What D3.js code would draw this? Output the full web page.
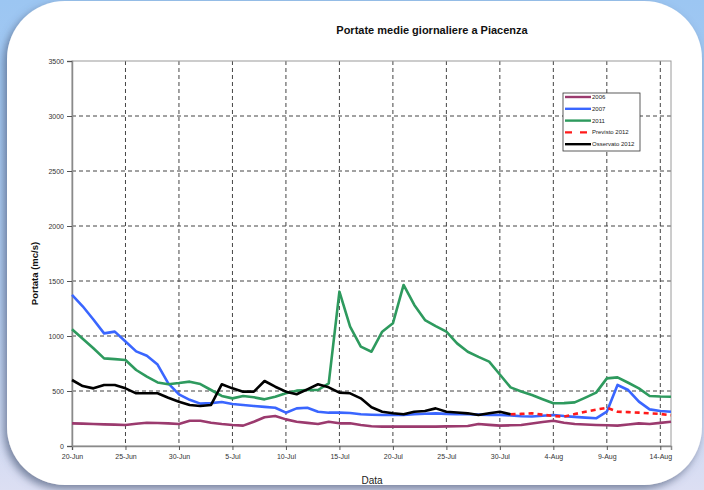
<!DOCTYPE html>
<html>
<head>
<meta charset="utf-8">
<script src="https://cdn.jsdelivr.net/npm/d3@7"></script>
<style>
  html, body { margin: 0; padding: 0; }
  body { width: 704px; height: 490px; overflow: hidden; font-family: Arial, "Liberation Sans", sans-serif; }
</style>
</head>
<body>
<div class="container"></div>
<script>
const width = 704,
    height = 490;

// daily mean flow (mc/s), one value per day starting 20-Jun
const startDay = new Date(2012, 5, 20);
const flow2006 = [206, 203, 200, 197, 194, 191, 202, 212, 209, 206, 200, 230, 230, 212, 200, 191, 185, 221, 261, 273,
    242, 221, 210, 200, 221, 206, 206, 191, 180, 176, 176, 176, 176, 176, 176, 178, 180, 182, 200, 192,
    185, 188, 191, 205, 218, 230, 212, 200, 195, 191, 188, 185, 195, 206, 200, 210, 221];
const flow2007 = [1373, 1270, 1150, 1024, 1040, 950, 860, 820, 740, 570, 470, 420, 385, 390, 400, 382, 372, 364, 356, 348,
    303, 342, 348, 312, 303, 303, 300, 288, 284, 282, 282, 282, 288, 293, 297, 292, 288, 288, 285, 283,
    282, 278, 270, 268, 275, 282, 272, 265, 258, 252, 312, 555, 509, 403, 333, 318, 312];
const flow2011 = [1061, 975, 888, 797, 790, 782, 691, 630, 578, 562, 572, 585, 563, 509, 455, 433, 455, 443, 424, 448,
    479, 503, 509, 509, 570, 1403, 1085, 903, 857, 1039, 1115, 1464, 1282, 1145, 1090, 1039, 933, 857, 810, 767,
    650, 533, 495, 464, 425, 388, 390, 397, 440, 485, 615, 624, 575, 524, 455, 450, 448];
const observed2012 = [600, 545, 524, 555, 555, 524, 479, 479, 479, 439, 403, 373, 364, 373, 561, 524, 494, 494, 591, 539,
    494, 470, 515, 561, 533, 485, 479, 433, 352, 312, 297, 288, 312, 318, 342, 312, 305, 297, 282, 297,
    312, 288];
// forecast starts where the observed series stops (day 41)
const forecastStart = 41;
const forecast2012 = [288, 292, 297, 285, 273, 267, 290, 312, 330, 348, 312, 308, 303, 297, 291, 279];

const yTicks = [0, 500, 1000, 1500, 2000, 2500, 3000, 3500];
const xTickDays = [0, 5, 10, 15, 20, 25, 30, 35, 40, 45, 50, 55];

const series = [
    { name: '2006', values: flow2006, offset: 0, color: '#9b3a6e', dash: null },
    { name: '2007', values: flow2007, offset: 0, color: '#3a66ff', dash: null },
    { name: '2011', values: flow2011, offset: 0, color: '#2e9a5e', dash: null },
    { name: 'Previsto 2012', values: forecast2012, offset: forecastStart, color: '#ff1a1a', dash: '5,4' },
    { name: 'Osservato 2012', values: observed2012, offset: 0, color: '#000000', dash: null }
];

const dayDate = i => d3.timeDay.offset(startDay, i);

const svg = d3.select('.container')
    .append('svg')
    .attr('width', width)
    .attr('height', height);

const defs = svg.append('defs');
const bg = defs.append('linearGradient')
    .attr('id', 'bg')
    .attr('x1', 0).attr('y1', 0).attr('x2', 0).attr('y2', 1);
bg.append('stop').attr('offset', '0%').attr('stop-color', '#9cc6f2');
bg.append('stop').attr('offset', '60%').attr('stop-color', '#b4cdf1');
bg.append('stop').attr('offset', '100%').attr('stop-color', '#dcdff3');

const shadow = defs.append('filter')
    .attr('id', 'shadow')
    .attr('x', '-10%').attr('y', '-10%').attr('width', '120%').attr('height', '120%');
shadow.append('feDropShadow')
    .attr('dx', -3).attr('dy', 4)
    .attr('stdDeviation', 4)
    .attr('flood-color', '#4a5878')
    .attr('flood-opacity', 0.7);

svg.append('rect')
    .attr('width', width)
    .attr('height', height)
    .attr('fill', 'url(#bg)');

svg.append('rect')
    .attr('x', 7)
    .attr('y', 1)
    .attr('width', 695)
    .attr('height', 484)
    .attr('rx', 58)
    .attr('ry', 58)
    .attr('fill', '#ffffff')
    .attr('filter', 'url(#shadow)');

const plot = { left: 72, right: 671, top: 61, bottom: 446 };

const x = d3.scaleTime()
    .domain([startDay, dayDate(56)])
    .range([plot.left, plot.right]);

const y = d3.scaleLinear()
    .domain([0, 3500])
    .range([plot.bottom, plot.top]);

// grid
const grid = svg.append('g').attr('class', 'grid');
grid.selectAll('.hgrid')
    .data(yTicks.filter(d => d > 0 && d < 3500))
    .enter()
    .append('line')
    .attr('x1', plot.left).attr('x2', plot.right)
    .attr('y1', d => y(d)).attr('y2', d => y(d))
    .attr('stroke', '#444')
    .attr('stroke-width', 1)
    .attr('stroke-dasharray', '4,3');

grid.selectAll('.vgrid')
    .data(xTickDays.filter(d => d > 0))
    .enter()
    .append('line')
    .attr('x1', d => x(dayDate(d))).attr('x2', d => x(dayDate(d)))
    .attr('y1', plot.top).attr('y2', plot.bottom)
    .attr('stroke', '#444')
    .attr('stroke-width', 1)
    .attr('stroke-dasharray', '4,3');

svg.append('rect')
    .attr('x', plot.left)
    .attr('y', plot.top)
    .attr('width', plot.right - plot.left)
    .attr('height', plot.bottom - plot.top)
    .attr('fill', 'none')
    .attr('stroke', '#9a9a9a')
    .attr('stroke-width', 1);

// axes
const xAxis = svg.append('g')
    .attr('transform', `translate(0, ${plot.bottom})`)
    .call(d3.axisBottom(x)
        .tickValues(xTickDays.map(dayDate))
        .tickFormat(d3.timeFormat('%-d-%b'))
        .tickSize(4)
        .tickPadding(4));

const yAxis = svg.append('g')
    .attr('transform', `translate(${plot.left}, 0)`)
    .call(d3.axisLeft(y)
        .tickValues(yTicks)
        .tickFormat(d3.format('d'))
        .tickSize(5)
        .tickPadding(3));

[xAxis, yAxis].forEach(a => {
    a.select('.domain').attr('stroke', '#8a8a8a').attr('stroke-width', 1.5);
    a.selectAll('.tick line').attr('stroke', '#555');
    a.selectAll('.tick text')
        .attr('fill', '#333')
        .style('font-family', 'Arial, "Liberation Sans", sans-serif')
        .style('font-size', '7px');
});

// series
const line = d3.line()
    .x(d => x(d.date))
    .y(d => y(d.value));

series.forEach(s => {
    const pts = s.values.map((v, i) => ({ date: dayDate(s.offset + i), value: v }));
    svg.append('path')
        .datum(pts)
        .attr('d', line)
        .attr('fill', 'none')
        .attr('stroke', s.color)
        .attr('stroke-width', 2.6)
        .attr('stroke-linejoin', 'round')
        .attr('stroke-dasharray', s.dash);
});

// legend
const legend = svg.append('g')
    .attr('id', 'legend')
    .attr('transform', 'translate(563, 93)');

legend.append('rect')
    .attr('width', 77)
    .attr('height', 58)
    .attr('fill', '#fff')
    .attr('stroke', '#333')
    .attr('stroke-width', 0.8);

const legendItem = legend.selectAll('.legend-item')
    .data(series.slice())
    .enter()
    .append('g')
    .attr('class', 'legend-item')
    .attr('transform', (d, i) => `translate(0, ${4 + i * 11.8})`);

legendItem.append('line')
    .attr('x1', 2).attr('x2', 28)
    .attr('stroke', d => d.color)
    .attr('stroke-width', 2.4)
    .attr('stroke-dasharray', d => d.dash ? '7,8' : null);

legendItem.append('text')
    .attr('x', 29)
    .attr('y', 2)
    .attr('fill', '#222')
    .style('font-size', '6px')
    .text(d => d.name);

// titles
svg.append('text')
    .attr('x', 432)
    .attr('y', 34)
    .attr('text-anchor', 'middle')
    .attr('fill', '#111')
    .style('font-size', '11px')
    .style('font-weight', 'bold')
    .text('Portate medie giornaliere a Piacenza');

svg.append('text')
    .attr('transform', `translate(38, ${(plot.top + plot.bottom) / 2 + 20}) rotate(-90)`)
    .attr('text-anchor', 'middle')
    .attr('fill', '#111')
    .style('font-size', '9.5px')
    .style('font-weight', 'bold')
    .text('Portata (mc/s)');

svg.append('text')
    .attr('x', 372)
    .attr('y', 484)
    .attr('text-anchor', 'middle')
    .attr('fill', '#222')
    .style('font-size', '10px')
    .text('Data');
</script>
</body>
</html>
